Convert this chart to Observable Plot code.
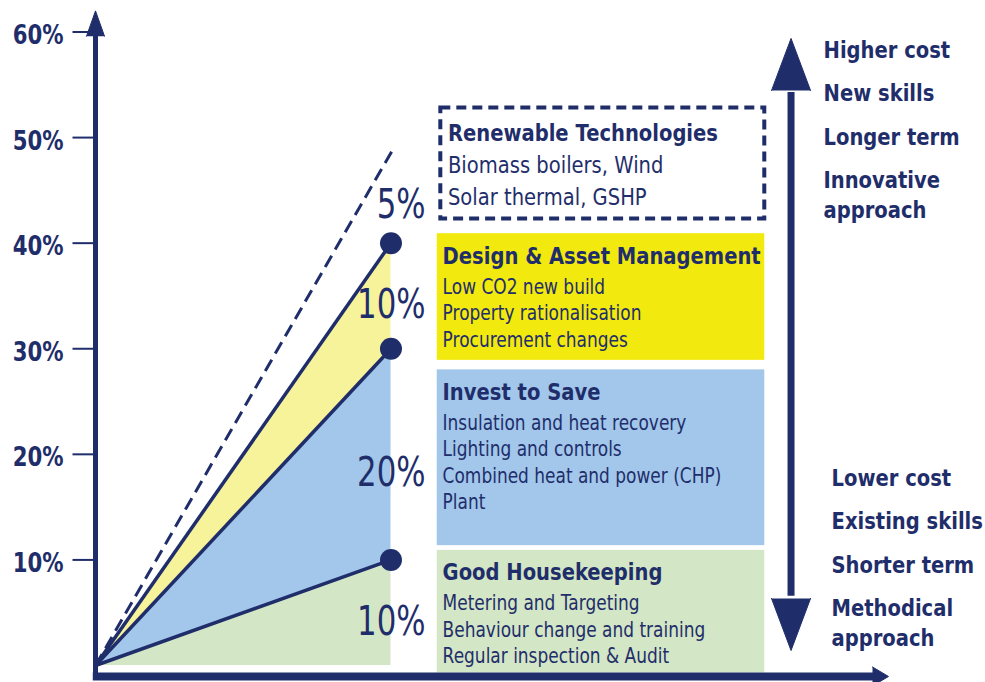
<!DOCTYPE html>
<html><head><meta charset="utf-8">
<script src="https://cdn.jsdelivr.net/npm/d3@7"></script>
<script src="https://cdn.jsdelivr.net/npm/@observablehq/plot@0.6"></script>
<style>html,body{margin:0;padding:0;background:#fff;} #chart{width:985px;height:682px;}</style>
</head><body><div id="chart"></div>
<script>
// ---------------- data ----------------
const tickValues = [10, 20, 30, 40, 50, 60];
const tickLabels = ["10%", "20%", "30%", "40%", "50%", "60%"];
const stages = ["Good Housekeeping", "Invest to Save", "Design & Asset Management", "Renewable Technologies"];
const stageSaving = [10, 20, 10, 5];          // % saving per stage
const stageLabels = ["10%", "20%", "10%", "5%"];
const potentialTotal = 49;                    // dashed "potential" line end
const stageItems = [
  ["Metering and Targeting", "Behaviour change and training", "Regular inspection & Audit"],
  ["Insulation and heat recovery", "Lighting and controls", "Combined heat and power (CHP)", "Plant"],
  ["Low CO2 new build", "Property rationalisation", "Procurement changes"],
  ["Biomass boilers, Wind", "Solar thermal, GSHP"]
];
const higherEnd = ["Higher cost", "New skills", "Longer term", "Innovative\napproach"];
const lowerEnd = ["Lower cost", "Existing skills", "Shorter term", "Methodical\napproach"];

// ---------------- layout / style ----------------
const W = 985, H = 682, mL = 95, mR = 0, mT = 31.5, mB = 17;
const pxPerPct = (H - mT - mB) / 60;
const pxPerX = (W - mL - mR) / 100;
const pct = px => px / pxPerPct;   // pixel offset -> % units
const ux = px => px / pxPerX;      // pixel offset -> x units
const NAVY = "#1f2e6a";
const bandFill = ["#d3e6c5", "#a2c7ea", "#f7f39b"];
const boxFill = ["#d3e6c5", "#a2c7ea", "#f2e90f", "#ffffff"];
const FONT = "'DejaVu Sans', Verdana, sans-serif";
const SQUISH = 0.82, SQUISH_BIG = 0.77, BIG_SIZE = 40;

const cum = d3.cumsum(stageSaving);           // 10, 30, 40, 45
const xEnd = 33.2;

// areas (bands) from origin to xEnd
const bands = [0, 1, 2].map(i => [
  {x: 0, lo: 0, hi: 0},
  {x: xEnd, lo: i ? cum[i - 1] : 0, hi: cum[i]}
]);

// stage percentage labels
const segLabels = stageLabels.map((t, i) => {
  const lo = i ? cum[i - 1] : 0, hi = cum[i];
  const f = i < 3 ? 0.41 : 0.72;
  return {text: t, y: lo + f * (hi - lo)};
});

// boxes
const boxX1 = 38.4, boxX2 = 75.2;
const boxes = [
  {x1: boxX1, x2: boxX2, y1: -0.7, y2: 10.9},
  {x1: boxX1, x2: boxX2, y1: 11.35, y2: 28.0},
  {x1: boxX1, x2: boxX2, y1: 28.9, y2: 40.9},
  {x1: 38.8, x2: boxX2, y1: 42.3, y2: 52.8}
];
const titleRows = stages.map((s, i) => ({
  text: s, x: i === 3 ? 39.6 : 39.0, y: boxes[i].y2 - pct(i === 3 ? 33 : 30)
}));
const bodyRows = stageItems.flatMap((items, i) => items.map((t, j) => ({
  text: t, big: i === 3,
  x: i === 3 ? 39.6 : 39.0,
  y: boxes[i].y2 - pct(i === 3 ? 65 + 31.5 * j : 60 + 26.5 * j)
})));

// right side arrow + text
const arrowX = 78.15, arrowHW = ux(19.5);
const arrowTopTip = 59.39, arrowTopBase = 54.46, arrowBotBase = 6.35, arrowBotTip = 1.42;
function sideRows(items, startY, x) {
  return items.flatMap((t, i) => t.split("\n").map((s, j) => ({
    text: s, x, y: startY - pct(i * 43.5 + j * 30)
  })));
}
const rightRows = [
  ...sideRows(higherEnd, pct(665 - 57), 81.8),
  ...sideRows(lowerEnd, pct(665 - 485), 82.7)
];

// axes geometry
const yAxisTip = 62.0, yAxisBase = 59.6, yHW = ux(9);
const xAxisY = -1.04, xAxisEnd = 87.3, xAxisTip = 89.1, xHH = pct(9.5);

const k = 0.85 / SQUISH; // keep widths, grow heights
const marks = [
  // boxes
  ...[0, 1, 2].map(i => Plot.rect([boxes[i]], {x1: "x1", x2: "x2", y1: "y1", y2: "y2", fill: boxFill[i]})),
  Plot.rect([boxes[3]], {x1: "x1", x2: "x2", y1: "y1", y2: "y2", fill: "white", stroke: NAVY, strokeWidth: 4, strokeDasharray: "10,6"}),
  // bands
  ...bands.map((b, i) => Plot.areaY(b, {x: "x", y1: "lo", y2: "hi", fill: bandFill[i]})),
  // lines
  Plot.link(cum.slice(0, 3), {x1: 0, y1: 0, x2: xEnd, y2: d => d, stroke: NAVY, strokeWidth: 3.5}),
  Plot.link([potentialTotal], {x1: 0, y1: 0, x2: 33.5, y2: d => d, stroke: NAVY, strokeWidth: 3, strokeDasharray: "13,7"}),
  Plot.dot(cum.slice(0, 3), {x: xEnd, y: d => d, r: 11, fill: NAVY}),
  // y axis
  Plot.ruleX([0], {y1: -1.2, y2: yAxisBase + 0.2, stroke: NAVY, strokeWidth: 5}),
  Plot.line([{x: -yHW, y: yAxisBase}, {x: 0, y: yAxisTip}, {x: yHW, y: yAxisBase}], {x: "x", y: "y", fill: NAVY, stroke: NAVY, strokeWidth: 1}),
  Plot.link(tickValues, {x1: ux(-23), x2: 0, y1: d => d, y2: d => d, stroke: NAVY, strokeWidth: 2}),
  Plot.text(tickValues, {x: ux(-32), y: d => d, text: (d, i) => tickLabels[i], textAnchor: "end", lineAnchor: "bottom", dy: 12, fontSize: 25 * k, fontWeight: "bold", fill: NAVY}),
  // x axis
  Plot.ruleY([xAxisY], {x1: -0.25, x2: xAxisEnd + 0.2, stroke: NAVY, strokeWidth: 8}),
  Plot.line([{x: xAxisEnd, y: xAxisY + xHH}, {x: xAxisTip, y: xAxisY}, {x: xAxisEnd, y: xAxisY - xHH}], {x: "x", y: "y", fill: NAVY, stroke: NAVY, strokeWidth: 1}),
  // right double arrow
  Plot.ruleX([arrowX], {y1: arrowBotBase + 0.2, y2: arrowTopBase - 0.2, stroke: NAVY, strokeWidth: 7}),
  Plot.line([{x: arrowX - arrowHW, y: arrowTopBase}, {x: arrowX, y: arrowTopTip}, {x: arrowX + arrowHW, y: arrowTopBase}], {x: "x", y: "y", fill: NAVY, stroke: NAVY, strokeWidth: 1}),
  Plot.line([{x: arrowX - arrowHW, y: arrowBotBase}, {x: arrowX, y: arrowBotTip}, {x: arrowX + arrowHW, y: arrowBotBase}], {x: "x", y: "y", fill: NAVY, stroke: NAVY, strokeWidth: 1}),
  // stage % labels
  Plot.text(segLabels, {x: 37.08, y: "y", text: "text", textAnchor: "end", lineAnchor: "middle", fontSize: BIG_SIZE, fill: NAVY}),
  // box texts
  Plot.text(titleRows, {x: "x", y: "y", text: "text", textAnchor: "start", lineAnchor: "bottom", fontSize: 23 * k, fontWeight: "bold", fill: NAVY}),
  Plot.text(bodyRows.filter(d => !d.big), {x: "x", y: "y", text: "text", textAnchor: "start", lineAnchor: "bottom", fontSize: 20 * k, fill: NAVY}),
  Plot.text(bodyRows.filter(d => d.big), {x: "x", y: "y", text: "text", textAnchor: "start", lineAnchor: "bottom", fontSize: 23 * k, fill: NAVY}),
  // right texts
  Plot.text(rightRows, {x: "x", y: "y", text: "text", textAnchor: "start", lineAnchor: "bottom", fontSize: 23 * k, fontWeight: "bold", fill: NAVY})
];

const svg = Plot.plot({
  width: W, height: H,
  marginLeft: mL, marginRight: mR, marginTop: mT, marginBottom: mB,
  x: {domain: [0, 100], axis: null},
  y: {domain: [0, 60], axis: null},
  style: {fontFamily: FONT, background: "white", overflow: "visible"},
  marks
});

// horizontally condense all text (the original uses a narrow Tahoma-like face)
svg.querySelectorAll("text").forEach(t => {
  const g = t.closest("g");
  const fs = g ? parseFloat(g.getAttribute("font-size")) : NaN;
  const s = fs === BIG_SIZE ? SQUISH_BIG : SQUISH;
  const tr = t.getAttribute("transform");
  const x = t.getAttribute("x"), y = t.getAttribute("y");
  if (!tr && x != null && !isNaN(+x)) {
    t.setAttribute("transform", `translate(${x},${+y || 0}) scale(${s},1)`);
    t.removeAttribute("x"); t.removeAttribute("y");
  } else {
    t.setAttribute("transform", (tr ? tr + " " : "") + `scale(${s},1)`);
  }
});

document.getElementById("chart").appendChild(svg);
</script>
</body></html>
